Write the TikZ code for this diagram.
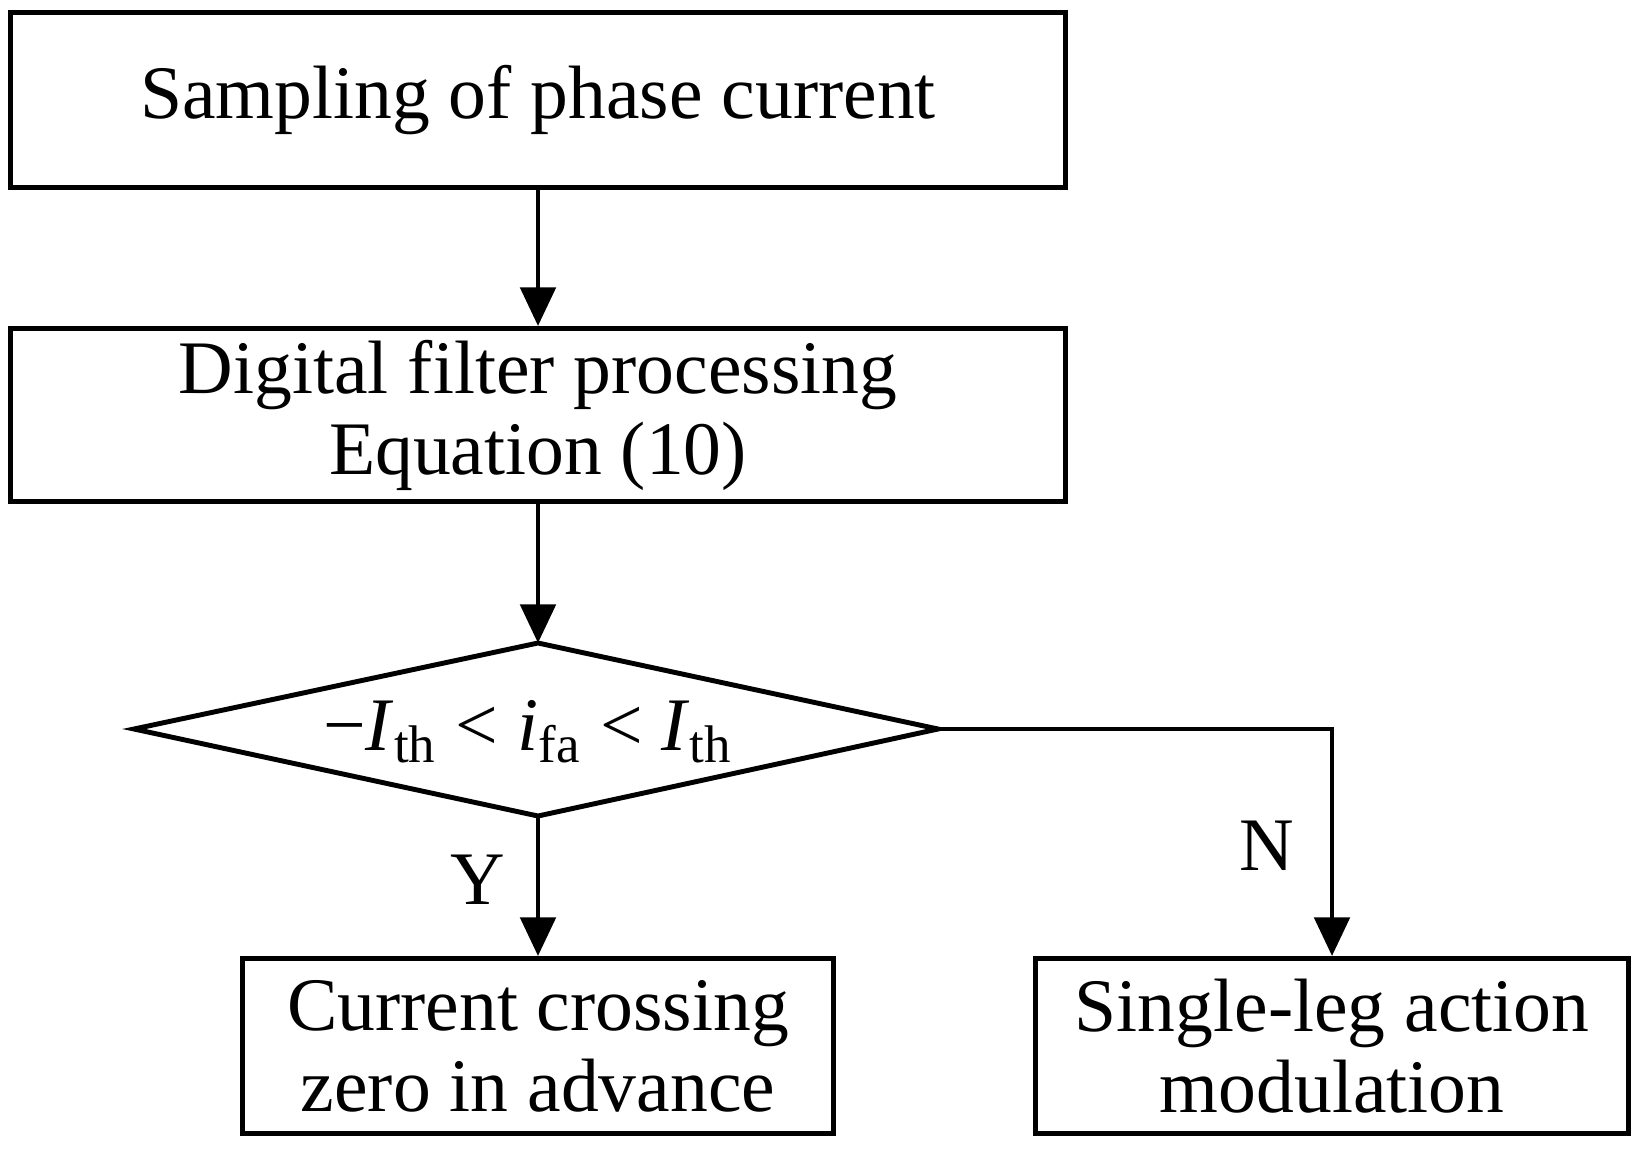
\documentclass[tikz,border=0pt]{standalone}
\usepackage{fontspec}
\setmainfont{Liberation Serif}
\usetikzlibrary{shapes.geometric,arrows.meta}
\begin{document}
\begin{tikzpicture}[x=0.01cm,y=-0.01cm,
    box/.style={draw, line width=1.4pt, minimum width=#1, align=center, font=\fontsize{21.5}{23}\selectfont, inner sep=0pt},
    lbl/.style={font=\fontsize{21.5}{23}\selectfont},
    arr/.style={line width=1.4pt, -{Triangle[length=11pt,width=10pt]}}]
    \useasboundingbox (0,0) rectangle (1640,1154);
    \node [box=10.55cm, minimum height=1.75cm] (samp) at (538,100) {Sampling of phase current};
    \node [box=10.55cm, minimum height=1.73cm] (filt) at (538,415) {Digital filter processing\\Equation (10)};
    \draw [line width=1.4pt] (134,729) coordinate (dl) -- (538,643) coordinate (dt)
        -- (938,729) coordinate (dr) -- (538,816) coordinate (db) -- cycle;
    \node [lbl] (cond) at (528,732) {−\textit{I}\textsubscript{th} < \textit{i}\textsubscript{fa} < \textit{I}\textsubscript{th}};
    \node [box=5.91cm, minimum height=1.75cm] (cross) at (538,1046) {Current crossing\\zero in advance};
    \node [box=5.92cm, minimum height=1.75cm] (leg) at (1332,1046) {Single-leg action\\modulation};
    \draw [arr] (samp) -- (filt);
    \draw [arr] (filt) -- (dt);
    \draw [arr] (db) -- (cross);
    \draw [arr] (dr) -| (leg);
    \node [lbl] (yes) at (478,880) {Y};
    \node [lbl] (no) at (1267,846) {N};
\end{tikzpicture}
\end{document}
